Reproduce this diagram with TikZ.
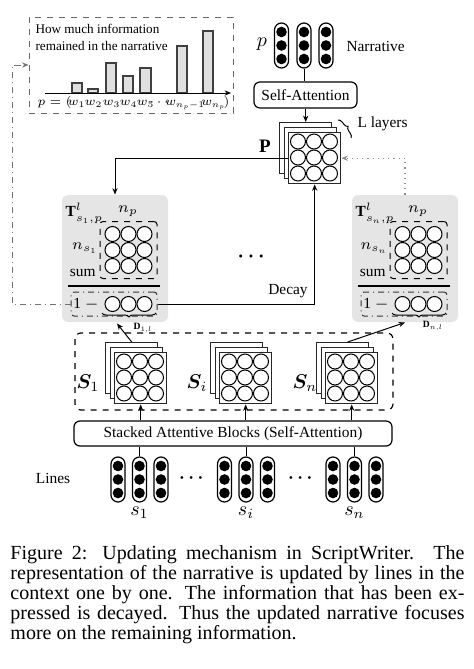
\RequirePackage{fix-cm}
\documentclass[tikz,border=0pt]{standalone}
\usepackage{amsmath,bm}
\usepackage{fontspec}
\setmainfont{Liberation Serif}
\usetikzlibrary{arrows.meta,decorations.pathreplacing,calc}
\tikzset{
  layer/.style={draw=black!85, fill=white, line width=0.7pt, minimum width=26pt, minimum height=25.5pt, inner sep=0pt, anchor=north west},
  wc/.style={circle, draw=black, fill=white, minimum size=7.5pt, inner sep=0pt, line width=0.5pt},
  capsule/.style={draw=black, fill=white, rounded corners=3.5pt, minimum width=7pt, minimum height=22.5pt, inner sep=0pt, line width=0.6pt},
  bc/.style={circle, fill=black, minimum size=5.3pt, inner sep=0pt},
  rbox/.style={draw=black, rounded corners=3pt, inner sep=0pt, line width=0.6pt},
  tbox/.style={fill=black!10, rounded corners=3pt, minimum width=53pt, minimum height=63.5pt, inner sep=0pt},
  gbox/.style={draw=black, dashed, rounded corners=1.5pt, minimum width=28.5pt, minimum height=28.5pt, inner sep=0pt, line width=0.5pt},
  dbox/.style={draw=black!80, dash dot, rounded corners=1.5pt, minimum width=43pt, minimum height=12pt, inner sep=0pt, line width=0.5pt},
  arr/.style={-{Stealth[length=3.2pt,width=2.6pt]}},
  txt/.style={inner sep=0pt},
  wl/.style={inner sep=0pt, font=\fontsize{6.1}{6.5}\selectfont},
}
\newcommand\atx[2]{\rlap{\hspace*{#1pt}\makebox[0pt]{#2}}}
\newcommand\mystack[3]{%
  \node[layer] (#1b) at (#2-9,#3-10) {};
  \node[layer] (#1m) at (#2-4.5,#3-5) {};
  \node[layer] (#1) at (#2,#3) {};
  \foreach \i in {0,1,2} \foreach \j in {0,1,2} \node[wc] at (#2+10+16*\i,#3+9.5+16*\j) {};
}
\newcommand\mycap[3]{%
  \node[capsule] (#1) at (#2,#3+22.5) {};
  \foreach \j in {9,22.5,36} \node[bc] at (#2,#3+\j) {};
}
\newcommand\tblock[4]{% name, xshift, subscript, row subscript
  \node[tbox] (#1) at (115+#2,258.5) {};
  \node[gbox] (#1g) at (128.5+#2,250) {};
  \foreach \i in {-16,0,16} \foreach \j in {-16,0,16} \node[wc] at (128.5+#2+\i,250+\j) {};
  \node[txt, anchor=west] at (65+#2,213) {$\mathbf{T}^{l}_{#3,p}$};
  \node[txt] at (128+#2,211) {$n_p$};
  \node[txt, anchor=east] at (98+#2,248) {$n_{#4}$};
  \node[txt, anchor=east] at (96+#2,273) {sum};
  \draw[line width=0.6pt] (68+#2,286) -- (160+#2,286);
  \node[dbox] (#1d) at (114+#2,304) {};
  \node[txt] at (86+#2,304) {1 $-$};
  \foreach \i in {-16,0,16} \node[wc] at (128.5+#2+\i,304) {};
  \draw[decorate, decoration={brace, amplitude=2pt}, line width=0.5pt] (156+#2,313) -- (102+#2,313);
}
\begin{document}
\begin{tikzpicture}[x=0.5pt,y=-0.5pt, font=\fontsize{7.7}{9}\selectfont, line width=0.5pt]
\useasboundingbox (0,0) rectangle (474,669);

% ---------- histogram box ----------
\node[draw=black!60, dashed, minimum width=102pt, minimum height=48pt, inner sep=0pt] (hist) at (131,65) {};
\node[txt, anchor=north west, align=left, font=\fontsize{6.6}{8.5}\selectfont] (htxt) at (35,24) {How much information\\remained in the narrative};
\foreach \a/\b/\t in {72/82/83, 88/98/89, 106/116/63, 123/133/76, 140/151/68, 177/187/46, 203/213/31}
  \draw[fill=black!12, draw=black!75, line width=0.7pt] (\a,93) rectangle (\b,\t);
\coordinate (ax0) at (45,93);
\coordinate (ax1) at (231,93);
\draw[arr] (ax0) -- (ax1);
\node[wl, anchor=base west] (plabel) at (45,105)
  {\atx{4.5}{$p=($}\atx{15.5}{$w_1$}\atx{24}{$w_2$}\atx{33}{$w_3$}\atx{41.5}{$w_4$}\atx{50}{$w_5$}\atx{57.5}{$\cdots$}\atx{69.8}{$w_{n_p-1}$}\atx{84}{$w_{n_p}$}\atx{90.5}{$)$}\hspace*{92pt}};

% ---------- narrative ----------
\mycap{na}{281.5}{23}
\mycap{nb}{304}{23}
\mycap{nc}{326}{23}
\node[txt, font=\fontsize{10}{10}\selectfont] at (262,44) {$p$};
\node[txt, anchor=west] at (346,46) {Narrative};
\node[rbox, minimum width=51.5pt, minimum height=13pt] (sa) at (305.5,95) {Self-Attention};
\draw (nb.south) -- (nb.south |- sa.north);

% ---------- P stack ----------
\mystack{Pf}{288}{132}
\draw[arr] (sa.south -| Pfb.north) -- (Pfb.north);
\node[txt, font=\fontsize{9.5}{10}\selectfont\bfseries] at (265,146) {P};
\draw[decorate, decoration={brace, amplitude=2.2pt}, line width=0.5pt] (338,120) -- (351,138);
\node[txt, anchor=west] at (357,124) {L layers};

% ---------- T blocks ----------
\tblock{T1}{0}{s_1}{s_1}
\tblock{Tn}{290}{s_n}{s_n}
\node[txt, font=\fontsize{4.8}{5}\selectfont] at (143,328) {$\mathbf{D}_{1,l}$};
\node[txt, font=\fontsize{4.8}{5}\selectfont] at (433,326) {$\mathbf{D}_{n,l}$};
\node[txt, font=\fontsize{10}{10}\selectfont] at (253,257) {$\bm{\cdots}$};

% connectors P <-> T
\draw[arr] (Pf.west) -| (T1.north);
\draw[arr] (T1d.east) -| (Pf.south);
\node[txt] at (288,291) {Decay};
\draw[arr, draw=black!45, dotted, line width=0.6pt] (Tn.north) |- (Pf.east);
\coordinate (fl) at (12,304);
\draw[arr, draw=black!55, dash dot, line width=0.5pt] (T1d.west) -- (fl) |- (hist.west);

% ---------- S stacks ----------
\draw[dashed, rounded corners=3pt, line width=0.6pt] (75,333) rectangle (393,410);
\mystack{S1}{114}{352}
\mystack{Si}{219}{352}
\mystack{Sn}{325}{352}
\node[txt, font=\fontsize{10}{10}\selectfont] at (88,383) {$\boldsymbol{S}_1$};
\node[txt, font=\fontsize{10}{10}\selectfont] at (197,383) {$\boldsymbol{S}_i$};
\node[txt, font=\fontsize{10}{10}\selectfont] at (305,383) {$\boldsymbol{S}_n$};
\draw[arr] (S1b.north) -- ($(T1.south)+(2,1)$);
\draw[arr] ($(Snb.north)+(5,0)$) -- ($(Tn.south)+(0,0)$);

% ---------- stacked attentive blocks ----------
\node[rbox, minimum width=159pt, minimum height=12.5pt] (sab) at (233,433.5) {Stacked Attentive Blocks (Self-Attention)};
\draw[arr] (S1.south |- sab.north) -- (S1.south);
\draw[arr] (Si.south |- sab.north) -- (Si.south);
\draw[arr] (Sn.south |- sab.north) -- (Sn.south);

% ---------- lines ----------
\mycap{l1a}{118}{457}
\mycap{l1b}{139.5}{457}
\mycap{l1c}{161}{457}
\mycap{lia}{224.5}{457}
\mycap{lib}{246}{457}
\mycap{lic}{267.5}{457}
\mycap{lna}{333}{457}
\mycap{lnb}{354.5}{457}
\mycap{lnc}{376}{457}
\draw (l1b.north) -- (l1b.north |- sab.south);
\draw (lib.north) -- (lib.north |- sab.south);
\draw (lnb.north) -- (lnb.north |- sab.south);
\node[txt] at (53,478) {Lines};
\node[txt, font=\fontsize{9}{9}\selectfont] at (193,478) {$\bm{\cdots}$};
\node[txt, font=\fontsize{9}{9}\selectfont] at (302,478) {$\bm{\cdots}$};
\node[txt, font=\fontsize{10}{10}\selectfont] at (139.5,513) {$s_1$};
\node[txt, font=\fontsize{10}{10}\selectfont] at (246,513) {$s_i$};
\node[txt, font=\fontsize{10}{10}\selectfont] at (354.5,513) {$s_n$};

% ---------- caption ----------
\node[txt, anchor=north west, text width=227pt, align=justify, font=\fontsize{10}{10}\selectfont] (cap) at (10,545)
 {Figure 2: Updating mechanism in ScriptWriter. The\linebreak
  representation of the narrative is updated by lines in the\linebreak
  context one by one. The information that has been ex-\linebreak
  pressed is decayed. Thus the updated narrative focuses\linebreak
  more on the remaining information.\par};
\end{tikzpicture}
\end{document}
